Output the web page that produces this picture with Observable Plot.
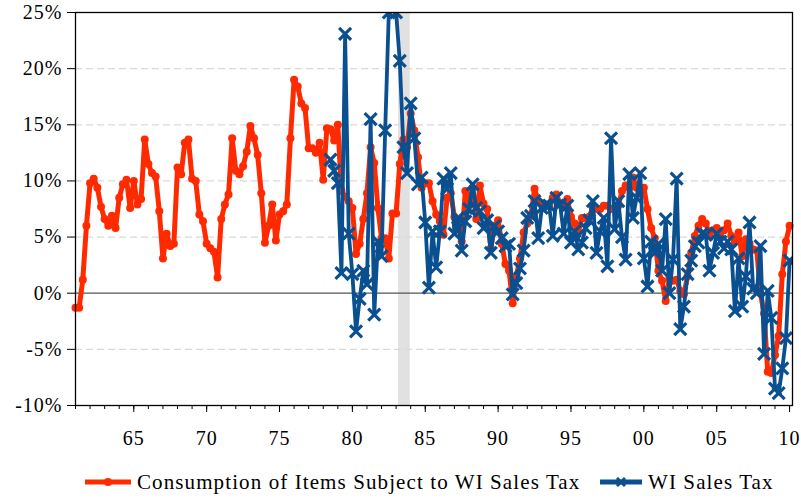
<!DOCTYPE html>
<html><head><meta charset="utf-8">
<script src="https://cdn.jsdelivr.net/npm/d3@7"></script>
<script src="https://cdn.jsdelivr.net/npm/@observablehq/plot@0.6"></script>
<style>
body{margin:0;background:#fff;font-family:"Liberation Serif","Times New Roman",serif;color:#000;}
#chart{width:801px;height:455px;}
#legend{position:relative;width:801px;height:44px;}
#legend .sw{position:absolute;top:17px;}
#legend .lab{position:absolute;top:15px;font-size:21px;line-height:24px;letter-spacing:1.1px;white-space:nowrap;}
</style></head><body>
<div id="chart"></div>
<div id="legend"></div>
<script>
// Quarterly series, first value = 1961 Q1
const consumptionStart = 1961;
const consumption = [
-1.3,-1.3,1.2,6.0, 9.8,10.2,9.4,7.7, 6.6,6.0,6.9,5.8, 8.5,9.7,10.1,7.6,
10.0,7.9,8.4,13.7, 11.5,10.7,10.4,7.3, 3.1,5.3,4.2,4.4, 11.2,10.6,13.4,13.7,
10.2,10.0,7.0,6.4, 4.4,4.0,3.7,1.4, 6.6,7.9,8.8,13.8, 10.9,10.6,11.3,12.6,
14.9,13.8,12.3,8.9, 4.5,6.0,7.9,4.7, 7.0,7.3,7.9,13.8, 19.0,18.4,16.9,16.5,
12.9,12.9,12.5,13.4, 10.1,14.7,14.6,13.6, 15.0,9.1,8.6,8.2, 7.6,3.5,4.4,6.6,
8.9,13.0,11.6,7.6, 4.9,4.9,3.1,7.1, 7.1,11.5,13.7,13.0, 16.0,14.5,12.1,9.4,
9.8,9.8,8.2,7.0, 6.4,5.2,8.5,8.9, 6.8,6.0,4.6,9.1, 8.0,9.4,6.6,9.6,
8.0,7.5,4.0,6.0, 6.5,4.4,2.6,2.0, -0.9,1.5,3.1,5.4, 6.2,6.9,9.3,8.2,
8.0,7.9,7.8,8.5, 8.8,8.0,7.8,8.4, 6.8,6.2,5.4,6.7, 6.7,6.8,7.6,7.5,
7.5,7.8,7.8,7.5, 7.6,7.8,9.1,9.6, 9.4,10.3,9.4,9.4, 9.4,7.5,5.8,4.9,
2.0,1.1,-0.7,1.3, 1.1,1.2,0.2,-0.1, 1.5,3.6,5.1,6.0, 6.6,6.2,5.3,5.6,
5.8,5.4,5.6,6.2, 5.1,4.6,5.4,3.3, 4.8,4.4,3.9,3.8, 0.0,-1.8,-7.0,-7.1,
-5.5,-3.8,1.7,4.6, 6.0
];
// Quarterly series, first value = 1978 Q3
const salesTaxStart = 1978.5;
const salesTax = [
11.9,10.9, 9.8,1.8,23.1,5.3, 1.7,-3.4,-0.5,2.0, 0.8,15.5,-1.9,4.6,
3.3,14.5,25.0,27.0, 25.0,20.7,13.0,10.7, 16.9,13.8,9.7,10.3, 6.3,0.5,5.5,2.3,
5.5,10.2,9.3,10.7, 5.3,6.7,3.8,6.4, 7.5,9.7,7.6,7.3, 5.8,6.5,3.6,6.0,
5.5,4.9,4.2,4.4, -0.1,0.9,2.2,3.8, 6.7,6.9,8.2,4.9, 7.6,7.9,7.8,5.1,
8.5,7.9,5.3,7.8, 4.5,5.5,3.9,4.5, 5.8,6.5,8.2,3.6, 5.5,6.7,2.4,13.8,
5.7,8.2,5.0,3.0, 10.6,6.7,8.5,10.7, 3.1,0.6,4.6,3.6, 4.4,2.0,6.6,0.0,
3.0,10.2,-3.2,-1.2, 1.7,2.9,4.2,4.5, 5.3,5.2,2.0,3.6, 5.3,4.6,4.0,4.6,
3.9,-1.6,3.1,-1.2, 1.5,6.3,0.4,0.0, 4.2,-5.4,0.2,-2.2, -8.5,-8.9,-6.7,-4.0,
2.9
];
const shadeBand = [{start: 1983.17, end: 1983.97}];
const yTicks = [-10, -5, 0, 5, 10, 15, 20, 25];
const gridTicks = [-5, 5, 10, 15, 20];
const xMajorTicks = [1965, 1970, 1975, 1980, 1985, 1990, 1995, 2000, 2005, 2010];
const xMinorTicks = d3.range(1961, 2011);
const seriesNames = ["Consumption of Items Subject to WI Sales Tax", "WI Sales Tax"];
const seriesColors = ["#ff2a00", "#0a5090"];

const red = consumption.map((v, i) => ({t: consumptionStart + i / 4, v}));
const blue = salesTax.map((v, i) => ({t: salesTaxStart + i / 4, v}));

const chart = Plot.plot({
  width: 801, height: 455,
  marginLeft: 75, marginRight: 9, marginTop: 12, marginBottom: 50,
  style: {fontFamily: "'Liberation Serif','Times New Roman',serif", fontSize: "20px", background: "white", color: "#000", letterSpacing: "1px"},
  x: {domain: [1961, 2010.2]},
  y: {domain: [-10, 25]},
  marks: [
    Plot.rect(shadeBand, {x1: "start", x2: "end", fill: "#e1e1e1"}),
    Plot.ruleY(gridTicks, {stroke: "#d9d9d9", strokeDasharray: "7,4", strokeWidth: 1.2}),
    Plot.ruleY([0], {stroke: "#555", strokeWidth: 1.3}),
    Plot.line(red, {x: "t", y: "v", stroke: seriesColors[0], strokeWidth: 5}),
    Plot.dot(red, {x: "t", y: "v", r: 4, fill: seriesColors[0]}),
    Plot.line(blue, {x: "t", y: "v", stroke: seriesColors[1], strokeWidth: 3.8, clip: true}),
    Plot.dot(blue, {x: "t", y: "v", symbol: "times", r: 5.5, stroke: seriesColors[1], strokeWidth: 3.2, clip: true}),
    Plot.frame({stroke: "#000", strokeWidth: 1.3}),
    Plot.axisY({ticks: yTicks, tickSize: 8, tickPadding: 5, tickFormat: d => d + "%", label: null}),
    Plot.axisX({ticks: xMinorTicks, tickSize: 4, tickFormat: () => "", label: null}),
    Plot.axisX({ticks: xMajorTicks, tickSize: 7, tickPadding: 18, tickFormat: d => String(d % 100).padStart(2, "0"), label: null})
  ]
});
document.getElementById("chart").appendChild(chart);

// Legend (HTML below the SVG)
const legend = document.getElementById("legend");
const items = [
  {name: seriesNames[0], color: seriesColors[0], sx: 85, sw: 46, tx: 137, marker: "circle"},
  {name: seriesNames[1], color: seriesColors[1], sx: 600, sw: 42, tx: 648, marker: "times"}
];
for (const it of items) {
  const mid = it.sw / 2;
  const m = it.marker === "circle"
    ? `<circle cx="${mid}" cy="10" r="4" fill="${it.color}"/>`
    : `<path d="M${mid-4},6L${mid+4},14M${mid-4},14L${mid+4},6" stroke="${it.color}" stroke-width="3"/>`;
  legend.insertAdjacentHTML("beforeend",
    `<svg class="sw" style="left:${it.sx}px" width="${it.sw}" height="20"><line x1="0" y1="10" x2="${it.sw}" y2="10" stroke="${it.color}" stroke-width="5"/>${m}</svg>` +
    `<div class="lab" style="left:${it.tx}px">${it.name}</div>`);
}
</script>
</body></html>
